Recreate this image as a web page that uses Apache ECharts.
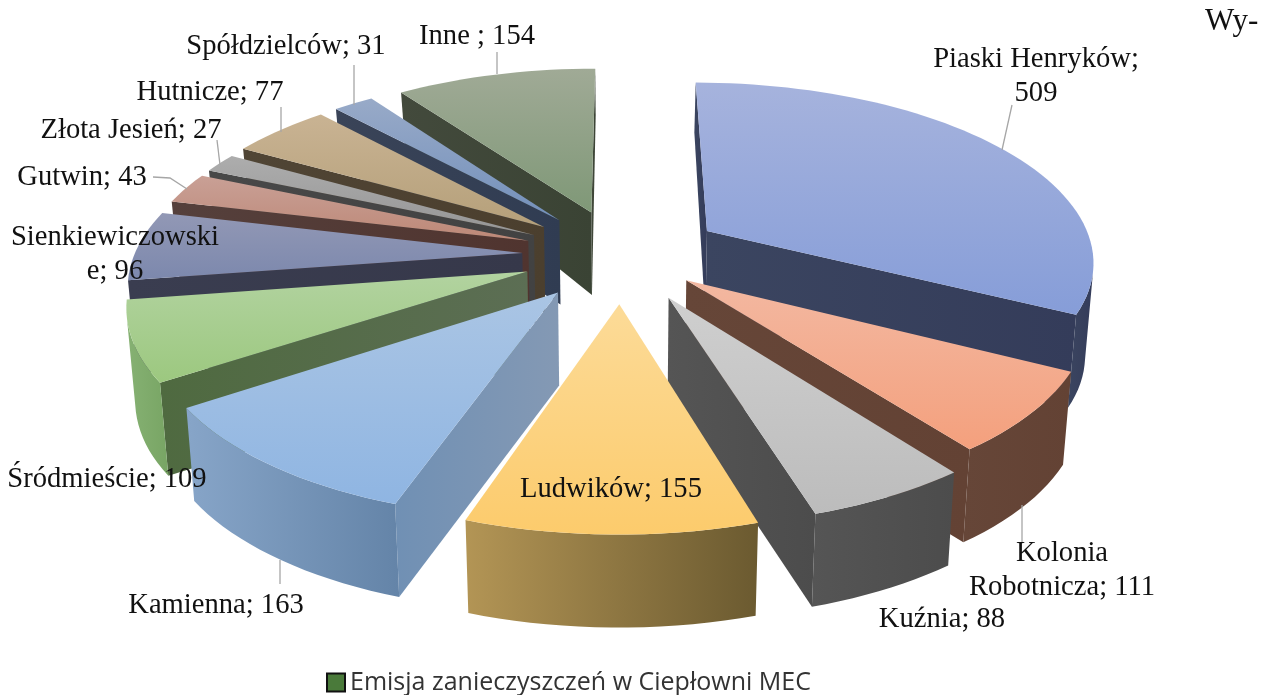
<!DOCTYPE html>
<html><head><meta charset="utf-8">
<style>html,body{margin:0;padding:0;background:#fff}#c{width:1269px;height:695px}</style>
<script src="https://cdn.jsdelivr.net/npm/echarts@6/dist/echarts.min.js"></script>
</head><body><div id="c"></div>
<script>
const seriesName = 'Emisja zanieczyszczeń w Ciepłowni MEC';
const categories = ['Piaski Henryków','Kolonia Robotnicza','Kuźnia','Ludwików','Kamienna','Śródmieście','Sienkiewiczowskie','Gutwin','Złota Jesień','Hutnicze','Spółdzielców','Inne'];
const values = [509,111,88,155,163,109,96,43,27,77,31,154];
const labelTexts = ['Piaski Henryków;\n509','Kolonia\nRobotnicza; 111','Kuźnia; 88','Ludwików; 155','Kamienna; 163','Śródmieście; 109','Sienkiewiczowski\ne; 96','Gutwin; 43','Złota Jesień; 27','Hutnicze; 77','Spółdzielców; 31','Inne ; 154'];

// Style tables, separate from the data
const topColors = [['#a6b3dd','#869dd8'],['#f3b8a1','#f4a07d'],['#cfcfcf','#bcbcbc'],['#fcdb98','#fccb6c'],['#aac5e4','#8fb5e2'],['#b2d3a0','#9cc87f'],['#9298b5','#7c88ad'],['#c9a096','#bd8877'],['#adadad','#959595'],['#c9b393','#b5a07a'],['#98aac8','#7390bb'],['#a0aa96','#7f9877']];
const wallColors = [['#3b4560','#343c5a'],['#664638','#634234'],['#555555','#4c4c4c'],['#b39555','#6b5a30'],['#87a5c8','#6484a8'],['#86b173','#78a564'],['#3a3d50','#36384a'],['#55403c','#50342f'],['#484848','#424242'],['#504535','#4b3f2e'],['#3a4458','#303c52'],['#434a3c','#3a4334']];
const cutColors = [['#3b4560','#343c5a'],['#664638','#634234'],['#555555','#4c4c4c'],['#8a7340','#8a7340'],['#7090b4','#8499b4'],['#4f6a40','#5c6e54'],['#3a3d50','#36384a'],['#55403c','#50342f'],['#484848','#424242'],['#504535','#4b3f2e'],['#3a4458','#303c52'],['#434a3c','#3a4334']];
const labelLayout = [[1036,76],[1062,570],[942,619],[611,489],[216,605],[107,479],[115,254],[82,177],[131,130],[210,92],[286,46],[477,36]];
const leaderLines = [[[1012,105],[1002,150]],[[1022,505],[1022,542]],null,null,[[280,560],[280,584]],null,null,[[153,177],[170,178],[187,189]],[[217,140],[220,165]],[[281,107],[281,132]],[[354,65],[354,105]],[[497,52],[497,74]]];
const explodes = [0.265,0.215,0.26,0.265,0.258,0.255,0.255,0.255,0.255,0.26,0.26,0.26];
const view = {cx:621,y0:255,R:388,D:6.5,C:1157,H:93,backLoss:0.25,shrink:0.982,step:2};

const total = values.reduce((a,b)=>a+b,0);
const starts = []; values.reduce((a,v,i)=>{starts[i]=a;return a+v;},0);
const ang = v => v/total*2*Math.PI;
function pTop(X,Y){const s=view.D/(view.D+Y);return [view.cx+X*view.R*s, view.y0-view.C*Y/(view.D+Y)];}
function pBot(p){return [view.cx+(p[0]-view.cx)*view.shrink, p[1]+view.H-view.backLoss*Math.max(0,view.y0-p[1])];}
function area(q){let a=0;for(let i=0;i<q.length;i++){const n=q[(i+1)%q.length];a+=q[i][0]*n[1]-n[0]*q[i][1];}return a;}
const bisector = i => ang(starts[i]+values[i]/2);
const order = values.map((_,i)=>i).sort((a,b)=>Math.cos(bisector(b))-Math.cos(bisector(a)));
const rank = []; order.forEach((i,r)=>rank[i]=r);
const grad=(c,h)=>new echarts.graphic.LinearGradient(0,0,h?1:0,h?0:1,[{offset:0,color:c[0]},{offset:1,color:c[1]}]);

function renderItem(params, api){
  const i = params.dataIndex, v = api.value(0);
  const a0 = ang(starts[i]), a1 = a0+ang(v), bis=(a0+a1)/2;
  const ex = explodes[i]*Math.sin(bis), ey = explodes[i]*Math.cos(bis);
  const apex = pTop(ex,ey);
  const n = Math.max(2,Math.ceil((a1-a0)/(view.step*Math.PI/180)));
  const rim=[]; for(let k=0;k<=n;k++){const t=a0+(a1-a0)*k/n; rim.push(pTop(ex+Math.sin(t),ey+Math.cos(t)));}
  const z = rank[i]*10, kids=[];
  const poly=(pts,fill,zz)=>kids.push({type:'polygon',shape:{points:pts},style:{fill,stroke:null},z2:z+zz,silent:true});
  const startQ=[apex,rim[0],pBot(rim[0]),pBot(apex)], endQ=[apex,rim[n],pBot(rim[n]),pBot(apex)];
  if(area(startQ)<0) poly(startQ,grad(cutColors[i],true),1);
  if(area(endQ)>0) poly(endQ,grad(cutColors[i],true),1);
  let front=[];
  for(let k=0;k<n;k++){
    if(area([rim[k],rim[k+1],pBot(rim[k+1]),pBot(rim[k])])<0){ if(!front.length) front.push(rim[k]); front.push(rim[k+1]); }
  }
  if(front.length>1){ poly(front.concat(front.slice().reverse().map(pBot)),grad(wallColors[i],true),2); }
  poly([apex].concat(rim),grad(topColors[i],false),3);
  if(leaderLines[i]) kids.push({type:'polyline',shape:{points:leaderLines[i]},style:{stroke:'#a6a6a6',lineWidth:1.3,fill:null},z2:900,silent:true});
  const L=labelLayout[i];
  kids.push({type:'text',style:{text:labelTexts[i],x:L[0],y:L[1],align:'center',verticalAlign:'middle',fill:'#111',font:'28.6px "Liberation Serif"',lineHeight:34},z2:1000,silent:true});
  return {type:'group',children:kids};
}

const chart = echarts.init(document.getElementById('c'),null,{renderer:'canvas'});
chart.setOption({
  animation:false,
  backgroundColor:'#fff',
  legend:{left:321,top:665,itemWidth:18,itemHeight:18,itemGap:6,selectedMode:false,
    data:[{name:seriesName,icon:'rect',itemStyle:{color:'#4a7a3a',borderColor:'#111',borderWidth:2}}],
    textStyle:{fontFamily:'Open Sans',fontSize:25,color:'#333'}},
  graphic:[{type:'text',left:1205,top:6,style:{text:'Wy-',font:'31px "Liberation Serif"',fill:'#111'}}],
  series:[{type:'custom',name:seriesName,coordinateSystem:'none',renderItem,
    data:values.map((v,i)=>({name:categories[i],value:v})),itemStyle:{color:'#4a7a3a'}}]
});
</script></body></html>
